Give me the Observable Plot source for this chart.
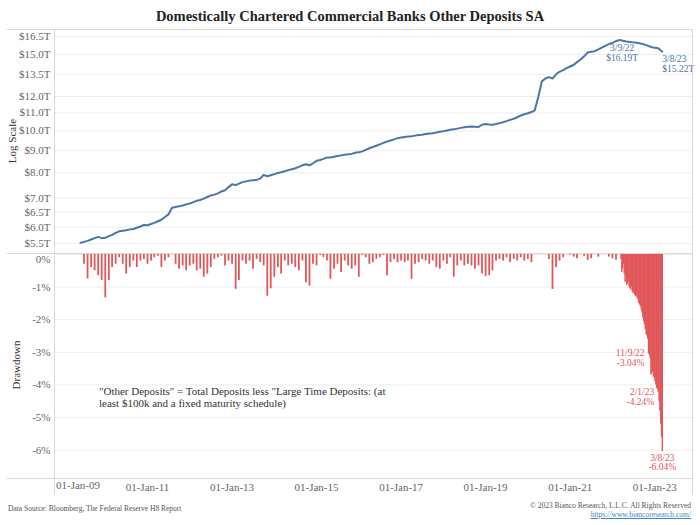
<!DOCTYPE html>
<html><head><meta charset="utf-8">
<script src="https://cdn.jsdelivr.net/npm/d3@7"></script>
<script src="https://cdn.jsdelivr.net/npm/@observablehq/plot@0.6"></script>
<style>
body{margin:0;background:#fff;}
#wrap{position:relative;width:700px;height:525px;font-family:"Liberation Serif",serif;overflow:hidden;background:#fff}
.abs{position:absolute;white-space:nowrap}
.hl{position:absolute;height:1px;background:#d8d8d8}
.vl{position:absolute;width:1px;background:#d8d8d8}
</style></head><body>
<div id="wrap">
  <div class="abs" id="top" style="left:0;top:25px"></div>
  <div class="abs" id="bot" style="left:0;top:254px"></div>
  <div class="abs" style="left:0;width:700px;top:8px;text-align:center;font-weight:bold;font-size:14.5px;color:#222">Domestically Chartered Commercial Banks Other Deposits SA</div>
  <div class="hl" style="left:7px;top:29px;width:686px"></div>
  <div class="hl" style="left:7px;top:253px;width:686px"></div>
  <div class="hl" style="left:7px;top:478px;width:686px"></div>
  <div class="vl" style="left:54px;top:29px;height:466px"></div>
  <div class="vl" style="left:692px;top:29px;height:466px"></div>
  <div class="abs" style="left:12px;top:141px;transform:translate(-50%,-50%) rotate(-90deg);font-size:11px;color:#333">Log Scale</div>
  <div class="abs" style="left:16px;top:365px;transform:translate(-50%,-50%) rotate(-90deg);font-size:11px;color:#333">Drawdown</div>
  <div class="abs" style="left:99px;top:386px;font-size:11px;line-height:11.5px;color:#333">"Other Deposits" = Total Deposits less "Large Time Deposits: (at<br>least $100k and a fixed maturity schedule)</div>
  <div class="abs" style="left:8px;top:504px;font-size:7.5px;color:#555">Data Source: Bloomberg, The Federal Reserve H8 Report</div>
  <div class="abs" style="right:9px;top:501px;font-size:7.5px;color:#555;text-align:right">© 2023 Bianco Research, L.L.C. All Rights Reserved</div>
  <div class="abs" style="right:9px;top:510px;font-size:7.5px;color:#3a86c8;text-decoration:underline;text-align:right">https://www.biancoresearch.com/</div>
</div>
<script>
// Monthly level of other deposits, $T, Jun 2009 .. Mar 2023
const levelStart = "2009-06-01";
const levels = [
  5.52, 5.55, 5.58, 5.62, 5.66, 5.70, 5.66,
  5.67, 5.72, 5.76, 5.82, 5.87, 5.89, 5.90, 5.93, 5.94, 5.98, 6.02, 6.07,
  6.06, 6.10, 6.14, 6.19, 6.24, 6.33, 6.42, 6.65, 6.68, 6.70, 6.73, 6.77,
  6.80, 6.85, 6.90, 6.93, 6.98, 7.04, 7.10, 7.13, 7.18, 7.25, 7.30, 7.42,
  7.53, 7.50, 7.56, 7.62, 7.65, 7.68, 7.70, 7.71, 7.76, 7.92, 7.86, 7.90,
  7.95, 8.00, 8.03, 8.07, 8.12, 8.16, 8.20, 8.26, 8.33, 8.38, 8.33, 8.42,
  8.53, 8.57, 8.62, 8.68, 8.68, 8.72, 8.75, 8.78, 8.81, 8.83, 8.85, 8.90,
  8.93, 8.97, 9.04, 9.12, 9.18, 9.24, 9.31, 9.38, 9.45, 9.50, 9.56, 9.62,
  9.65, 9.68, 9.70, 9.72, 9.75, 9.78, 9.80, 9.83, 9.86, 9.88, 9.91, 9.95,
  9.98, 10.02, 10.06, 10.08, 10.12, 10.16, 10.19, 10.22, 10.24, 10.22, 10.21, 10.33,
  10.37, 10.34, 10.33, 10.37, 10.42, 10.47, 10.53, 10.60, 10.66, 10.75, 10.85, 10.92,
  10.98, 11.05, 11.15, 12.0, 13.0, 13.2, 13.3, 13.2, 13.5, 13.68, 13.8, 13.95,
  14.07, 14.2, 14.4, 14.6, 14.85, 15.15, 15.22, 15.26, 15.4, 15.55, 15.7, 15.85,
  15.95, 16.1, 16.19, 16.12, 16.06, 16.03, 15.99, 15.95, 15.9, 15.82, 15.72, 15.6,
  15.55, 15.5, 15.22
];
// Monthly drawdown (%), Jul 2009 .. Feb 2022
const ddStart = "2009-07-01";
const ddMonthly = [
  -0.3, -0.75, -0.4, -0.5, -0.65, -0.8,
  -1.33, -0.8, -0.4, -0.3, -0.1, -0.3, -0.6, -0.4, -0.2, -0.4, -0.2, -0.15,
  -0.3, -0.2, -0.1, -0.05, -0.4, -0.2, -0.1, 0, -0.3, -0.45, -0.35, -0.5,
  -0.35, -0.3, -0.5, -0.45, -0.7, -0.6, -0.4, -0.15, -0.1, -0.05, -0.35, -0.2,
  -0.3, -1.07, -0.8, -0.2, -0.3, -0.2, -0.45, -0.15, -0.25, -0.35, -1.28, -1.05,
  -0.7, -0.4, -0.6, -0.2, -0.35, -0.3, -0.4, -0.5, -0.2, -0.87, -0.97, -0.3,
  -0.35, -0.03, -0.1, -0.2, -0.76, -0.45, -0.3, -0.55, -0.2, -0.35, -0.45, -0.35,
  -0.7, -0.03, -0.1, -0.3, -0.25, -0.15, -0.1, -0.03, -0.65, -0.25, -0.15, -0.25,
  -0.2, -0.25, -0.2, -0.76, -0.3, -0.25, -0.15, -0.2, -0.3, -0.2, -0.4, -0.45,
  -0.2, -0.3, -0.1, -0.7, -0.35, -0.2, -0.35, -0.3, -0.35, -0.45, -0.35, -0.6,
  -0.68, -0.65, -0.5, -0.2, -0.15, -0.2, -0.1, -0.25, -0.15, -0.2, -0.1, -0.2,
  -0.15, -0.25, 0, 0, 0, 0, -0.15, -1.07, -0.4, -0.2, -0.1, 0,
  -0.02, -0.08, -0.13, 0, -0.05, -0.18, -0.13, 0, -0.08, 0, 0, -0.08,
  -0.13, -0.18
];
// Weekly drawdown (%), 3/9/22 .. 3/8/23
const ddWeeklyStart = "2022-03-09";
const ddWeekly = [
  0, -0.15, -0.55, -0.45, -0.3, -0.6, -0.85, -0.7, -0.95, -0.9, -0.85, -1.0, -1.05,
  -1.1, -1.0, -1.15, -1.2, -1.15, -1.25, -1.3, -1.25, -1.35, -1.4, -1.5, -1.55, -1.6,
  -1.7, -1.8, -1.95, -2.05, -2.15, -2.3, -2.45, -2.5, -2.6, -3.04, -3.1, -3.2, -3.7,
  -3.65, -3.6, -3.75, -3.8, -3.9, -4.0, -4.1, -4.15, -4.24, -4.5, -4.8, -5.2, -5.6, -6.04
];
const topTicks = [5.5, 6, 6.5, 7, 8, 9, 10, 11, 12, 13.5, 15, 16.5];
const ddTicks = [0, -1, -2, -3, -4, -5, -6];
const xTickYears = [2009, 2011, 2013, 2015, 2017, 2019, 2021, 2023];
const topAnnoDates = ["2022-03-09", "2023-03-08"];
const topAnnoValues = [16.19, 15.22];
const topAnnoLabels = ["3/9/22\n$16.19T", "3/8/23\n$15.22T"];
const ddAnnoDates = ["2022-11-09", "2023-02-01", "2023-03-08"];
const ddAnnoValues = [-3.04, -4.24, -6.04];
const ddAnnoLabels = ["11/9/22\n-3.04%", "2/1/23\n-4.24%", "3/8/23\n-6.04%"];

const parse = d3.utcParse("%Y-%m-%d");
const levelData = levels.map((v, i) => ({date: d3.utcMonth.offset(parse(levelStart), i), v}));
levelData[levelData.length - 1].date = parse(topAnnoDates[1]);
const peakIdx = levels.indexOf(d3.max(levels));
levelData[peakIdx].date = parse(topAnnoDates[0]);
const ddData = ddMonthly.map((v, i) => ({date: d3.utcMonth.offset(parse(ddStart), i), v}));
const ddWeekData = ddWeekly.map((v, i) => ({date: d3.utcDay.offset(parse(ddWeeklyStart), 7 * i), v}));
const topAnno = topAnnoDates.map((d, i) => ({date: parse(d), v: topAnnoValues[i], label: topAnnoLabels[i]}));
const ddAnno = ddAnnoDates.map((d, i) => ({date: parse(d), v: ddAnnoValues[i], label: ddAnnoLabels[i]}));
const xTicks = xTickYears.map(y => new Date(Date.UTC(y, 0, 1)));
const xFmt = d => "01-Jan-" + String(d.getUTCFullYear()).slice(2);
const xDomain = [new Date(Date.UTC(2008, 9, 28)), new Date(Date.UTC(2023, 10, 24))];

const BLUE = "#4a76a8", RED = "#e15759", GRID = "#eeeeee", TICK = "#666";
const font = {fontFamily: '"Liberation Serif", serif', fontSize: "11px", background: "transparent", overflow: "visible"};

const topPlot = Plot.plot({
  width: 700, height: 229, marginTop: 5, marginBottom: 0, marginLeft: 55, marginRight: 8,
  style: font,
  x: {type: "utc", domain: xDomain, axis: null},
  y: {type: "log", domain: [5.19, 17.03]},
  marks: [
    Plot.gridY(topTicks, {stroke: GRID, strokeOpacity: 1}),
    Plot.axisY(topTicks, {tickSize: 0, tickPadding: 5, tickFormat: d => "$" + d.toFixed(1) + "T", fill: TICK, label: null}),
    Plot.line(levelData, {x: "date", y: "v", stroke: BLUE, strokeWidth: 2}),
    Plot.text(topAnno.slice(0, 1), {x: "date", y: "v", text: "label", textAnchor: "middle", lineAnchor: "top", dx: 2, dy: 4, fill: BLUE, fontSize: 9.5, lineHeight: 1.05}),
    Plot.text(topAnno.slice(1), {x: "date", y: "v", text: "label", textAnchor: "start", lineAnchor: "top", dx: 0, dy: 3, fill: BLUE, fontSize: 9.5, lineHeight: 1.05})
  ]
});
document.getElementById("top").append(topPlot);

const botPlot = Plot.plot({
  width: 700, height: 246, marginTop: 0, marginBottom: 22, marginLeft: 55, marginRight: 8,
  style: font,
  x: {type: "utc", domain: xDomain},
  y: {domain: [-6.87, 0]},
  marks: [
    Plot.gridY(ddTicks, {stroke: GRID, strokeOpacity: 1}),
    Plot.axisY(ddTicks.filter(d => d < 0), {tickSize: 0, tickPadding: 5, tickFormat: d => d + "%", fill: TICK, label: null}),
    Plot.text(ddTicks.filter(d => d === 0), {y: d => d, text: d => d + "%", frameAnchor: "left", textAnchor: "end", dx: -5, dy: 5, fill: TICK}),
    Plot.ruleX(ddData, {x: "date", y1: 0, y2: "v", stroke: RED, strokeWidth: 1.8}),
    Plot.ruleX(ddWeekData, {x: "date", y1: 0, y2: "v", stroke: RED, strokeWidth: 1.4}),
    Plot.axisX(xTicks.slice(1), {tickSize: 0, tickPadding: 5, tickFormat: xFmt, fill: TICK, label: null}),
    Plot.text(xTicks.slice(0, 1), {x: d => d, text: xFmt, frameAnchor: "bottom", textAnchor: "start", dx: -7, dy: 10, fill: TICK}),
    Plot.text(ddAnno.slice(0, 2), {x: "date", y: "v", text: "label", textAnchor: "end", lineAnchor: "top", dx: -4, dy: -5, fill: RED, fontSize: 9.5, lineHeight: 1.05}),
    Plot.text(ddAnno.slice(2), {x: "date", y: "v", text: "label", textAnchor: "middle", lineAnchor: "top", dy: 2, fill: RED, fontSize: 9.5, lineHeight: 1.05})
  ]
});
document.getElementById("bot").append(botPlot);
</script>
</body></html>
